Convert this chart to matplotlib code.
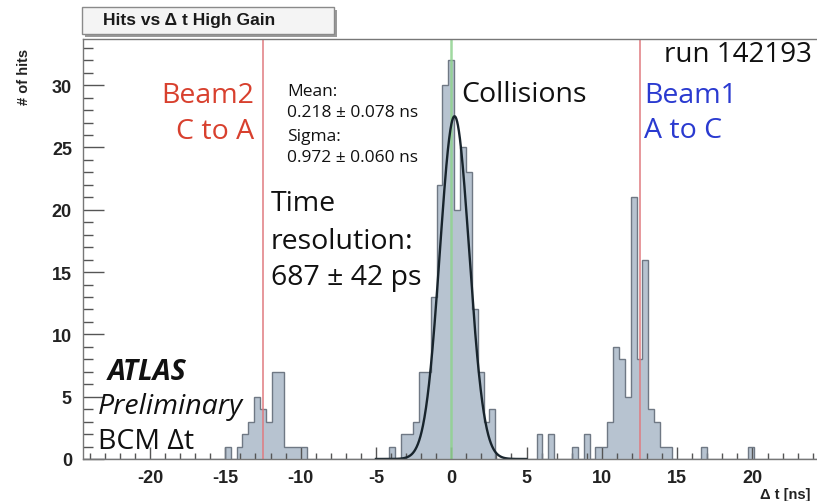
import numpy as np
import matplotlib
matplotlib.use("Agg")
import matplotlib.pyplot as plt

# BCM time-difference histogram: one bin = one 390.625 ps sample (25 ns / 64)
BIN_WIDTH = 25.0 / 64.0

# Beam-2 halo (C to A), around -12.5 ns
beam2_bins = [-38, -36, -35, -34, -33, -32, -31, -30, -29, -28, -27, -26, -25]
beam2_hits = [1, 1, 2, 3, 5, 4, 3, 7, 7, 1, 1, 1, 1]

# Collisions, around 0 ns
coll_bins = [-10, -8, -7, -6, -5, -4, -3, -2, -1, 0, 1, 2, 3, 4, 5, 6, 7]
coll_hits = [1, 2, 2, 3, 7, 7, 13, 22, 30, 32, 20, 25, 23, 12, 7, 3, 4]

# Scattered hits between the peaks
stray_bins = [15, 17, 21, 23, 43, 51]
stray_hits = [2, 2, 1, 2, 1, 1]

# Beam-1 halo (A to C), around +12.5 ns
beam1_bins = [25, 26, 27, 28, 29, 30, 31, 32, 33, 34, 35, 36, 37]
beam1_hits = [1, 1, 3, 9, 8, 5, 21, 8, 16, 4, 3, 1, 1]

# Gaussian fit to the collision peak
fit_mean = 0.218
fit_sigma = 0.972
fit_const = 27.5
fit_range = (-5.0, 5.0)

beam_dt = 12.5

# assemble the full histogram
n_half = 64
edges = (np.arange(-n_half, n_half + 1) - 0.5) * BIN_WIDTH
counts = np.zeros(2 * n_half)
for b, h in [(beam2_bins, beam2_hits), (coll_bins, coll_hits),
             (stray_bins, stray_hits), (beam1_bins, beam1_hits)]:
    for k, c in zip(b, h):
        counts[k + n_half] = c

W, H = 817, 502
fig = plt.figure(figsize=(W / 100, H / 100), dpi=100)
fig.patch.set_facecolor("white")

x_left, x_right = -24.45, 24.45
y_top = 33.7
ax_l, ax_r, ax_t, ax_b = 83, 819.5, 40, 460
ax = fig.add_axes([ax_l / W, 1 - ax_b / H, (ax_r - ax_l) / W, (ax_b - ax_t) / H])
ax.set_xlim(x_left, x_right)
ax.set_ylim(0, y_top)

fill_col = "#b7c3d0"
edge_col = "#6f7884"
ax.stairs(counts, edges, fill=True, color=fill_col, zorder=1)
ax.stairs(counts, edges, fill=False, color=edge_col, lw=1.0, zorder=2)

# beam and collision markers
ax.axvline(0.0, color="#8fd38f", lw=1.8, alpha=0.85, zorder=3)
ax.axvline(-beam_dt, color="#e07a80", lw=1.1, zorder=3)
ax.axvline(beam_dt, color="#e07a80", lw=1.1, zorder=3)

xf = np.linspace(fit_range[0], fit_range[1], 600)
yf = fit_const * np.exp(-0.5 * ((xf - fit_mean) / fit_sigma) ** 2)
ax.plot(xf, yf, color="#18242c", lw=1.7, zorder=4)

# ROOT-style axes: ticks inside, bold Helvetica labels
ax.set_xticks(np.arange(-20, 21, 5))
ax.set_xticks(np.arange(-24, 25, 1), minor=True)
ax.set_yticks(np.arange(0, 31, 5))
ax.set_yticks(np.arange(0, 34, 1), minor=True)
ax.tick_params(axis="x", which="major", direction="in", length=9, width=1.0,
               color="#555555", pad=7, top=False)
ax.tick_params(axis="x", which="minor", direction="in", length=4.5, width=1.0,
               color="#555555", top=False)
ax.tick_params(axis="y", which="major", direction="in", length=15, width=1.0,
               color="#555555", pad=8, right=False)
ax.tick_params(axis="y", which="minor", direction="in", length=7.5, width=1.0,
               color="#555555", right=False)
ax.set_xticklabels([f"{v:d}" if v >= 0 else f"-{-v:d}" for v in range(-20, 21, 5)])
for lab in ax.get_xticklabels() + ax.get_yticklabels():
    lab.set_fontfamily("Liberation Sans")
    lab.set_fontweight("bold")
    lab.set_fontsize(13)
    lab.set_color("#222222")
for sp in ax.spines.values():
    sp.set_color("#777777")
    sp.set_linewidth(1.0)
    sp.set_zorder(5)

fig.text(810 / W, 1 - 495 / H, "\u0394 t [ns]", ha="right", va="center",
         fontsize=10.5, fontweight="bold", family="Liberation Sans", color="#222222")
fig.text(24 / W, 1 - 77 / H, "# of hits", ha="center", va="center", rotation=90,
         fontsize=10.5, fontweight="bold", family="Liberation Sans", color="#222222")

# title box with shadow
shadow = plt.Rectangle((85 / W, 1 - 38 / H), (337 - 85) / W, (38 - 11) / H,
                       transform=fig.transFigure, facecolor="#9a9a9a",
                       edgecolor="none", zorder=6)
box = plt.Rectangle((82 / W, 1 - 35 / H), (334 - 82) / W, (35 - 8) / H,
                    transform=fig.transFigure, facecolor="#f4f4f4",
                    edgecolor="#8a8a8a", lw=1.0, zorder=7)
fig.patches.extend([shadow, box])
fig.text(103 / W, 1 - 21 / H, "Hits vs \u0394 t High Gain", ha="left", va="center",
         fontsize=12.5, fontweight="bold", family="Liberation Sans",
         color="#1a1a1a", zorder=8)

# annotations
sans = ["Open Sans", "DejaVu Sans"]
red = "#d8402e"
blue = "#2a3ad0"
big = 20.5
small = 12.5


def px_text(x, y, s, **kw):
    fig.text(x / W, 1 - y / H, s, **kw)


px_text(254, 96, "Beam2", ha="right", va="center", fontsize=big, color=red, family=sans)
px_text(254, 132, "C to A", ha="right", va="center", fontsize=big, color=red, family=sans)
px_text(644, 96, "Beam1", ha="left", va="center", fontsize=big, color=blue, family=sans)
px_text(644, 131, "A to C", ha="left", va="center", fontsize=big, color=blue, family=sans)
px_text(461, 95, "Collisions", ha="left", va="center", fontsize=big, color="#111111", family=sans)
px_text(812, 55, "run 142193", ha="right", va="center", fontsize=big - 0.5,
        color="#111111", family=sans)

px_text(287, 92, "Mean:", ha="left", va="center", fontsize=small, color="#111111", family=sans)
px_text(287, 113, f"{fit_mean:.3f} \u00b1 0.078 ns", ha="left", va="center",
        fontsize=small, color="#111111", family=sans)
px_text(287, 137, "Sigma:", ha="left", va="center", fontsize=small, color="#111111", family=sans)
px_text(287, 158, f"{fit_sigma:.3f} \u00b1 0.060 ns", ha="left", va="center",
        fontsize=small, color="#111111", family=sans)

px_text(271, 204, "Time", ha="left", va="center", fontsize=big, color="#111111", family=sans)
px_text(271, 242, "resolution:", ha="left", va="center", fontsize=big, color="#111111", family=sans)
px_text(271, 278, "687 \u00b1 42 ps", ha="left", va="center", fontsize=big, color="#111111", family=sans)

px_text(108, 373, "ATLAS", ha="left", va="center", fontsize=big, color="#111111",
        family=sans, fontweight="bold", fontstyle="italic")
px_text(98, 407, "Preliminary", ha="left", va="center", fontsize=big, color="#111111",
        family=sans, fontstyle="italic")
px_text(98, 442, "BCM \u0394t", ha="left", va="center", fontsize=big, color="#111111",
        family=sans)

fig.savefig("out.png", dpi=100)
